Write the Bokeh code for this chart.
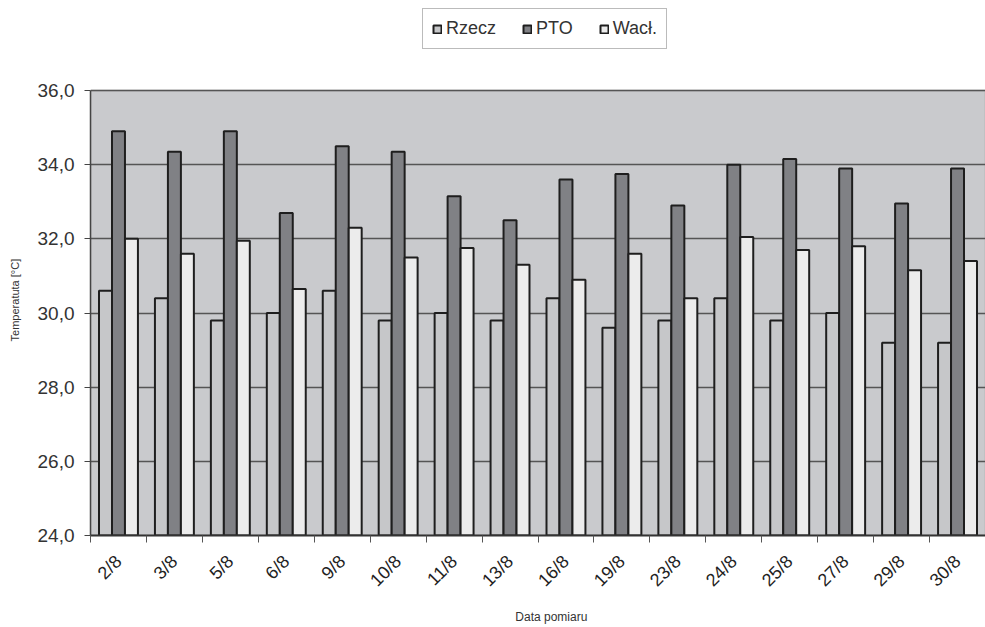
import math
from bokeh.plotting import figure
from bokeh.models import ColumnDataSource, Range1d, FixedTicker, Legend, LegendItem, BoxAnnotation
from bokeh.transform import dodge
from bokeh.embed import file_html
from bokeh.resources import INLINE

dates = ["2/8", "3/8", "5/8", "6/8", "9/8", "10/8", "11/8", "13/8",
         "16/8", "19/8", "23/8", "24/8", "25/8", "27/8", "29/8", "30/8"]
rzecz = [30.6, 30.4, 29.8, 30.0, 30.6, 29.8, 30.0, 29.8,
         30.4, 29.6, 29.8, 30.4, 29.8, 30.0, 29.2, 29.2]
pto = [34.9, 34.35, 34.9, 32.7, 34.5, 34.35, 33.15, 32.5,
       33.6, 33.75, 32.9, 34.0, 34.15, 33.9, 32.95, 33.9]
wacl = [32.0, 31.6, 31.95, 30.65, 32.3, 31.5, 31.75, 31.3,
        30.9, 31.6, 30.4, 32.05, 31.7, 31.8, 31.15, 31.4]
y_ticks = [24, 26, 28, 30, 32, 34, 36]
series_names = ["Rzecz", "PTO", "Wacł."]

Y_MIN, Y_MAX = 24, 36
idx = list(range(len(dates)))
src = ColumnDataSource(dict(idx=idx, date=dates, rzecz=rzecz, pto=pto, wacl=wacl))

# frame spans the full height above the axis; the grey plot box is 24..36
FRAME_H, BOX_H = 535, 445
y_top = Y_MIN + (Y_MAX - Y_MIN) * FRAME_H / BOX_H

NB = "\u00a0"
FONT = "Liberation Sans"
p = figure(width=985, height=627, output_backend="svg", toolbar_location=None,
           x_range=Range1d(-0.5, len(dates) - 0.5), y_range=Range1d(Y_MIN, y_top),
           min_border_left=90, min_border_top=0, min_border_right=0, min_border_bottom=92)
p.frame_width = 895
p.frame_height = FRAME_H
p.title.visible = False
p.background_fill_color = "white"
p.border_fill_color = "white"
p.outline_line_color = None

box = BoxAnnotation(bottom=Y_MIN, top=Y_MAX, fill_color="#c9cacd", fill_alpha=1,
                    line_color="#555555", line_width=1.5, level="image")
p.add_layout(box)

bw = 0.232
cols = ["rzecz", "pto", "wacl"]
fills = ["#c6c7c9", "#808185", "#ececec"]
offs = [-bw, 0.0, bw]
renderers = []
for c, f, o in zip(cols, fills, offs):
    r = p.vbar(x=dodge("idx", o, range=p.x_range), top=c, bottom=Y_MIN, width=bw, source=src,
               fill_color=f, line_color="#1e1e1e", line_width=2)
    renderers.append(r)

# grid
p.xgrid.visible = False
p.ygrid.ticker = FixedTicker(ticks=y_ticks)
p.ygrid.grid_line_color = "#555555"
p.ygrid.grid_line_width = 1.5

# y axis
p.yaxis.ticker = FixedTicker(ticks=y_ticks)
p.yaxis.bounds = (Y_MIN, Y_MAX)
p.yaxis.major_label_overrides = {t: f"{t},0" for t in y_ticks}
p.yaxis.major_label_text_font = FONT
p.yaxis.major_label_text_font_size = "19px"
p.yaxis.major_label_text_color = "#333333"
p.yaxis.major_label_standoff = 10
p.yaxis.major_tick_out = 6
p.yaxis.major_tick_in = 0
p.yaxis.minor_tick_line_color = None
p.yaxis.axis_line_color = "#444444"
p.yaxis.axis_line_width = 1.5
p.yaxis.major_tick_line_color = "#444444"
p.yaxis.axis_label = "Temperatuta [°C]" + NB * 21
p.yaxis.axis_label_text_font = FONT
p.yaxis.axis_label_text_font_style = "normal"
p.yaxis.axis_label_text_font_size = "11px"
p.yaxis.axis_label_text_color = "#333333"
p.yaxis.axis_label_standoff = 14

# x axis
p.xaxis.ticker = FixedTicker(ticks=idx, minor_ticks=[i - 0.5 for i in range(len(dates) + 1)])
p.xaxis.major_label_overrides = {i: d for i, d in zip(idx, dates)}
p.xaxis.major_label_orientation = math.pi / 4
p.xaxis.major_label_text_font = FONT
p.xaxis.major_label_text_font_size = "18px"
p.xaxis.major_label_text_color = "#222222"
p.xaxis.major_label_standoff = 16
p.xaxis.major_tick_line_color = None
p.xaxis.minor_tick_out = 7
p.xaxis.minor_tick_in = 0
p.xaxis.minor_tick_line_color = "#555555"
p.xaxis.axis_line_color = "#333333"
p.xaxis.axis_line_width = 2
p.xaxis.axis_label = NB * 8 + "Data pomiaru"
p.xaxis.axis_label_text_font = FONT
p.xaxis.axis_label_text_font_style = "normal"
p.xaxis.axis_label_text_font_size = "12px"
p.xaxis.axis_label_text_color = "#333333"
p.xaxis.axis_label_standoff = 10

legend = Legend(items=[LegendItem(label=n, renderers=[r]) for n, r in zip(series_names, renderers)],
                orientation="horizontal", location=(332, 486))
legend.label_text_font = FONT
legend.label_text_font_size = "18px"
legend.label_text_color = "#333333"
legend.glyph_width = 10
legend.glyph_height = 10
legend.label_standoff = 4
legend.spacing = 26
legend.padding = 9
legend.margin = 0
legend.border_line_color = "#777777"
legend.border_line_width = 1.5
legend.background_fill_color = "white"
legend.background_fill_alpha = 1
p.add_layout(legend, "center")

open("out.html", "w").write(file_html(p, INLINE))
